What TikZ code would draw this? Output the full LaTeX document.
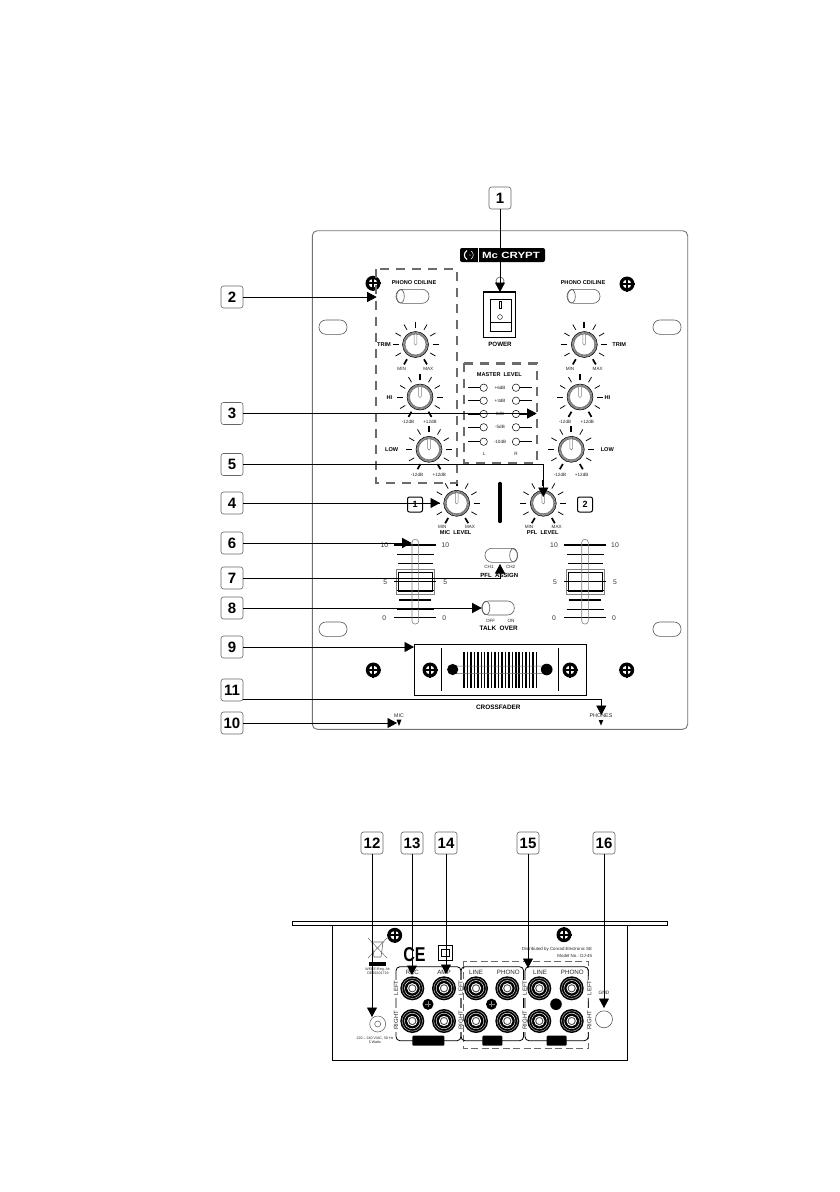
\documentclass[tikz,border=0pt]{standalone}
\usepackage{fontspec}
\setmainfont{Liberation Sans}
\usetikzlibrary{arrows.meta,calc}
\definecolor{dashgray}{gray}{0.42}
\definecolor{panelgray}{gray}{0.45}
\newcounter{lbc}
\newcommand{\fs}[1]{\fontsize{#1}{#1}\selectfont}
\newcommand{\txt}[4][lab]{\stepcounter{lbc}\node[#1] (lb\arabic{lbc}) at (#2,#3) {#4};}
\newcommand{\knob}[3]{%
  \foreach \a in {30,60,120,150,0,180,210,330}{\draw[line width=.75] ($(#1,#2)+(\a:17pt)$) -- ($(#1,#2)+(\a:23pt)$);}
  \foreach \a in {90,240,300}{\draw[line width=1.7] ($(#1,#2)+(\a:17pt)$) -- ($(#1,#2)+(\a:23pt)$);}
  \fill[white] (#1,#2) circle[radius=#3 pt];
  \draw[gray!60,line width=2.4] (#1,#2) circle[radius=#3 pt - 1.2pt];
  \draw[black!60,line width=2.2,dash pattern=on .5pt off .8pt] (#1,#2) circle[radius=#3 pt - 1.2pt];
  \draw[line width=.5] (#1,#2) circle[radius=#3 pt];
  \draw[black!60,line width=.5] (#1,#2) circle[radius=#3 pt - 2.5pt];
  \draw[gray,line width=.5] ($(#1,#2)+(-1.4,-10.3)$) -- ++(0,9.5) arc[start angle=180,end angle=360,radius=1.4pt] -- ++(0,-9.5);
}
\newcommand{\screw}[3]{%
  \fill[black] (#1,#2) circle[radius=#3 pt];
  \fill[white] (#1,#2) circle[radius=#3 pt * .58];
  \draw[black,line width=.26*#3] ($(#1,#2)+(-#3,0)$) -- ($(#1,#2)+(#3,0)$);
  \draw[black,line width=.26*#3] ($(#1,#2)+(0,-#3)$) -- ($(#1,#2)+(0,#3)$);
}
\newcommand{\slotbox}[2]{\draw[slotline,rounded corners=6.8pt] (#1,#2) rectangle ++(28,14.3);}
\newcommand{\toggle}[4]{%
  \draw[slotline,rounded corners=6.8pt] (#1,#3) rectangle (#2,#3+14);
  \draw[slotline] (#4,#3+7) ellipse[x radius=3.8pt,y radius=6.8pt];
}
\newcommand{\fader}[1]{%
  \foreach \yy/\dx/\lw in {545/21/1.4,554.3/18.5/.6,563.3/17.5/.6,590.7/18.5/1,600/16/1.2,609/18.5/.9,617.7/21/1.4}{\draw[line width=\lw] (#1-\dx,\yy) -- (#1+\dx,\yy);}
  \draw[gray,line width=.6] (#1-19,569) rectangle (#1+19,594);
  \draw[line width=1] (#1-17,572.7) rectangle (#1+17,591.7);
  \draw[line width=1.4] (#1-21,581.7) -- (#1+21,581.7);
  \draw[gray,line width=.6,rounded corners=3pt] (#1-3.3,539.3) rectangle (#1+3.3,624);
  \txt[num]{#1-31}{545.3}{10}\txt[num]{#1+30}{545.3}{10}
  \txt[num]{#1-30}{581.7}{5}\txt[num]{#1+30}{581.7}{5}
  \txt[num]{#1-31}{617.7}{0}\txt[num]{#1+29}{617.7}{0}
}
\newcommand{\jack}[2]{%
  \fill[black] (#1,#2) circle[radius=12pt];
  \draw[white!80!black,line width=.4] (#1,#2) circle[radius=10.2pt];
  \draw[white,line width=.45] (#1,#2) circle[radius=7.8pt];
  \fill[white] (#1,#2) circle[radius=5.2pt];
  \draw[black!70,line width=.9] (#1,#2) circle[radius=3.6pt];
}
\tikzset{
  callout/.style={draw=black!60,line width=.6,rounded corners=2.5pt,minimum width=22pt,minimum height=22pt,inner sep=0pt,fill=white,font=\fs{15}\bfseries},
  lead/.style={line width=.8,-{Triangle[length=9.5pt,width=10pt]}},
  slotline/.style={draw=black!65,line width=.6},
  dashbox/.style={draw=dashgray,line width=2.4,dash pattern=on 9pt off 7pt},
  lab/.style={font=\fs{5.6}\bfseries,inner sep=0pt},
  labb/.style={font=\fs{6.4}\bfseries,inner sep=0pt},
  tin/.style={font=\fs{4.6},inner sep=0pt,text=black!85},
  num/.style={font=\fs{6.8},inner sep=0pt,text=black!80},
  rear/.style={font=\fs{6.2},inner sep=0pt,text=black!85},
  rot/.style={font=\fs{6},inner sep=0pt,rotate=90,text=black!85},
  fine/.style={font=\fs{3.6},inner sep=0pt,text=black!85},
}
\begin{document}
\begin{tikzpicture}[x=1pt,y=-1pt]
\useasboundingbox (0,0) rectangle (840,1192);
\fill[white] (0,0) rectangle (840,1192);

% front panel
\draw[panelgray,line width=.9,rounded corners=5pt] (312.3,230.7) rectangle (687.7,729.3);
\slotbox{319}{320}\slotbox{653}{320}\slotbox{319}{622}\slotbox{653}{622}

% power switch
\draw[slotline] (500,281) circle[radius=4pt];
\draw[line width=1.2] (483.3,292) rectangle (515.7,337.7);
\draw[line width=.6] (490,299) rectangle (511,331);
\draw[line width=.6] (490,322) -- (511,322);
\draw[line width=.6] (498.8,301.5) rectangle (501.2,308.5);
\draw[line width=.4] (500,317) circle[radius=2.4pt];
\txt[lab]{500}{344.3}{\fs{6.2}\bfseries POWER}

% screws front
\screw{373}{283.3}{7.5}\screw{627}{284}{7.5}
\screw{373.3}{670}{7.5}\screw{430}{670}{7.5}\screw{570}{670}{7.5}\screw{626.7}{670}{7.5}

% toggles
\toggle{396}{429}{289.3}{400.5}\toggle{567}{600}{289.3}{571.5}
\toggle{485}{517.7}{548.3}{513.5}\toggle{481.7}{514.3}{601}{486}
\txt[lab]{414}{282.7}{PHONO CD/LINE}\txt[lab]{583}{282.7}{PHONO CD/LINE}

% knobs
\knob{415.5}{344.5}{13}\knob{420}{397}{13}\knob{429}{449.3}{13}\knob{456.7}{503.3}{13}
\knob{584.3}{344.5}{13}\knob{580}{397}{13}\knob{571.3}{449.3}{13}\knob{543.3}{503.3}{13}
\txt[lab]{384}{345}{TRIM}\txt[lab]{619.3}{345}{TRIM}
\txt[lab]{389.3}{397.3}{HI}\txt[lab]{607.3}{397.3}{HI}
\txt[lab]{391.7}{450}{LOW}\txt[lab]{607.3}{450}{LOW}
\txt[tin]{401.7}{369.3}{MIN}\txt[tin]{428.3}{369.3}{MAX}
\txt[tin]{570}{369.3}{MIN}\txt[tin]{597.7}{369.3}{MAX}
\txt[tin]{408}{422}{-12dB}\txt[tin]{430}{422}{+12dB}
\txt[tin]{565}{422}{-12dB}\txt[tin]{587.3}{422}{+12dB}
\txt[tin]{417}{475}{-12dB}\txt[tin]{439.3}{475}{+12dB}
\txt[tin]{560}{475}{-12dB}\txt[tin]{581.7}{475}{+12dB}
\txt[tin]{442.3}{527.3}{MIN}\txt[tin]{470}{527.3}{MAX}
\txt[tin]{529}{527.3}{MIN}\txt[tin]{556.7}{527.3}{MAX}
\txt[lab]{455.7}{532.9}{MIC\ \ LEVEL}\txt[lab]{542.7}{532.9}{PFL\ \ LEVEL}

% dashed groups
\draw[dashbox] (376,269) rectangle (456.7,482.7);
\draw[dashbox,fill=white] (464,363.3) rectangle (536.7,463.3);

% master level
\txt[lab]{499.3}{375}{MASTER\ \ LEVEL}
\foreach \yy/\lw/\tt in {387.7/1.5/+6dB,400.7/.7/+3dB,414/1.5/0dB,427.3/1.5/-5dB,441.7/.7/-10dB}{
  \draw[line width=\lw] (468.3,\yy) -- (480,\yy);
  \draw[line width=\lw] (519.7,\yy) -- (531.7,\yy);
  \draw[line width=.5] (483.7,\yy) circle[radius=3.7pt];
  \draw[line width=.5] (516,\yy) circle[radius=3.7pt];
  \txt[tin]{500}{\yy}{\tt}
}
\txt[tin]{484.3}{454}{L}\txt[tin]{516}{454}{R}

% channel marks and bar
\node[draw,line width=1,rounded corners=2pt,minimum width=15pt,minimum height=15pt,inner sep=0pt,font=\fs{9}\bfseries] (ch1) at (415,504.5) {1};
\node[draw,line width=1,rounded corners=2pt,minimum width=15pt,minimum height=15pt,inner sep=0pt,font=\fs{9}\bfseries] (ch2) at (585,504.5) {2};
\draw[line width=3.4,line cap=round] (500,483.5) -- (500,521.5);

% faders
\fader{415.3}\fader{585}
\txt[tin]{489}{567.3}{CH1}\txt[tin]{510.7}{567.3}{CH2}
\txt[lab]{499.3}{575.4}{\fs{6}\bfseries PFL\ \ ASSIGN}
\txt[tin]{490.7}{620.7}{OFF}\txt[tin]{511}{620.7}{ON}
\txt[labb]{498.7}{628}{TALK\ \ OVER}

% crossfader
\draw[line width=.9] (414.3,644) rectangle (586.7,695.7);
\draw[line width=.9] (441.3,648.3) -- (441.3,690.7);
\draw[line width=.9] (558.3,648.3) -- (558.3,690.7);
\foreach \i in {0,...,21}{\draw[line width=1.5] (464+3.45*\i,651.7) -- (464+3.45*\i,687.7);}
\draw[draw=black!60,line width=.5,rounded corners=3pt] (452,666) rectangle (547,673.5);
\fill (452.7,669.5) circle[radius=5.6pt];
\fill (546.7,669.5) circle[radius=5.8pt];
\txt[labb]{498.3}{707.7}{CROSSFADER}
\txt[tin]{399}{716}{\fs{5.2}MIC}\txt[tin]{601}{716}{\fs{5.4}PHONES}
\fill (396.5,719.5) -- (401.5,719.5) -- (399,726) -- cycle;
\fill (598.7,720) -- (603.3,720) -- (601,725.5) -- cycle;

% rear panel
\draw[line width=.9] (292.3,921.7) rectangle (667.3,925.7);
\draw[line width=.9] (332.7,925.7) -- (332.7,1060) -- (627.3,1060) -- (627.3,925.7);
\screw{394.7}{935.3}{7.5}\screw{564}{934.7}{7.5}
% WEEE
\draw[black!60,line width=.5] (368,938) -- (387,958);
\draw[black!60,line width=.5] (387,938) -- (368,958);
\draw[black!60,line width=.6] (372,942) -- (383,942) -- (381,957) -- (374,957) -- cycle;
\fill (369,962) rectangle (386,965.7);
\txt[fine]{378}{969.3}{WEEE-Reg.-Nr.}\txt[fine]{378}{973.7}{DE60201719}
\node[inner sep=0pt,font=\fs{20}\bfseries] (ce) at (414.5,954.6) {\scalebox{.8}[1]{CE}};
\draw[line width=.7] (438.3,945.7) rectangle (452.7,960);
\draw[line width=.7] (441.7,949) rectangle (449.3,956.7);
\draw[draw=dashgray,line width=.7,dash pattern=on 7pt off 3.5pt] (463.3,961.7) rectangle (588.3,1048.3);
\foreach \xa/\xb in {396/461,461/523.6,525/588.3}{
  \draw[line width=.8,rounded corners=4pt] (\xa,966.7) rectangle (\xb,1040.7);
}
\fill[white] (394,980) rectangle (398,998);\fill[white] (394,1008) rectangle (398,1032);
\fill[white] (459,980) rectangle (463,998);\fill[white] (459,1008) rectangle (463,1032);
\fill[white] (522.5,980) rectangle (527,998);\fill[white] (522.5,1008) rectangle (527,1032);
\fill[white] (586.5,980) rectangle (591,998);\fill[white] (586.5,1008) rectangle (591,1032);
\fill[black,rounded corners=1pt] (412.3,1035.7) rectangle (444.3,1045.7);
\fill[black,rounded corners=1pt] (482.3,1035.7) rectangle (502.3,1045.7);
\fill[black,rounded corners=1pt] (546.7,1035.7) rectangle (566.7,1045.7);
\foreach \xx in {412.3,444,476,507.3,539.3,571.7}{\jack{\xx}{988.3}\jack{\xx}{1021}}
\fill (428,1004.3) circle[radius=5.5pt];
\draw[gray,line width=.6] (425,1004.3) -- (431,1004.3) (428,1001.3) -- (428,1007.3);
\fill (491.5,1004.2) circle[radius=5.5pt];
\draw[gray,line width=.6] (488.5,1004.2) -- (494.5,1004.2) (491.5,1001.2) -- (491.5,1007.2);
\fill (556,1004.2) circle[radius=5.8pt];
\txt[rear]{412.3}{972.3}{REC}\txt[rear]{444}{972.3}{AMP}
\txt[rear]{476}{972.3}{LINE}\txt[rear]{508.3}{972.3}{PHONO}
\txt[rear]{540}{972.3}{LINE}\txt[rear]{572.3}{972.3}{PHONO}
\foreach \xx in {396,460.7,524.7,589.3}{\txt[rot]{\xx}{987.7}{LEFT}\txt[rot]{\xx}{1020}{RIGHT}}
\draw[black!65,line width=.5] (377.7,1024) circle[radius=8pt];
\draw[black!65,line width=.5] (377.7,1024) circle[radius=3pt];
\txt[fine]{375}{1038.7}{220 – 240 V/AC, 50 Hz}\txt[fine]{375}{1042.7}{5 Watts}
\node[fine,anchor=east,font=\fs{4.4}] (dist) at (592.3,949.3) {Distributed by Conrad Electronic SE};
\node[fine,anchor=east,font=\fs{4.4}] (model) at (592.3,956) {Model No.: DJ-45};
\txt[rear]{604}{993}{\fs{4.8}GND}
\draw[black!65,line width=.6] (604,1019.3) circle[radius=8.5pt];

% callouts
\node[callout] (n1) at (500,198) {1};
\node[callout] (n2) at (232,297) {2};
\node[callout] (n3) at (232,413.5) {3};
\node[callout] (n5) at (232,464.5) {5};
\node[callout] (n4) at (232,503) {4};
\node[callout] (n6) at (232,543) {6};
\node[callout] (n7) at (232,578) {7};
\node[callout] (n8) at (232,608) {8};
\node[callout] (n9) at (232,647) {9};
\node[callout] (n11) at (232,690) {11};
\node[callout] (n10) at (232,723) {10};
\node[callout] (n12) at (372,843) {12};
\node[callout] (n13) at (412,843) {13};
\node[callout] (n14) at (446,843) {14};
\node[callout] (n15) at (528,843) {15};
\node[callout] (n16) at (604,843) {16};

% targets
\coordinate (t1) at (500,292);
\coordinate (t2) at (376.7,297);
\coordinate (t3) at (536.7,413.5);
\coordinate (t5) at (543.3,497);
\coordinate (t4) at (440,503);
\coordinate (t6) at (411.7,543);
\coordinate (t7) at (500,564);
\coordinate (t8) at (481.7,608);
\coordinate (t9) at (414,647);
\coordinate (t11) at (601.3,715);
\coordinate (t10) at (397,723);
\coordinate (t12) at (372,1017);
\coordinate (t13) at (412,975);
\coordinate (t14) at (446,974);
\coordinate (t15) at (528,968);
\coordinate (t16) at (604,1008);

% connectors
\draw[lead] (n1.south) -- (t1);
\draw[lead] (n2.east) -- (t2);
\draw[lead] (n3.east) -- (t3);
\draw[lead] (n5.east) -| (t5);
\draw[lead] (n4.east) -- (t4);
\draw[lead] (n6.east) -- (t6);
\draw[lead] (n7.east) -| (t7);
\draw[lead] (n8.east) -- (t8);
\draw[lead] (n9.east) -- (t9);
\draw[lead] ([yshift=-9.4pt]n11.east) -| (t11);
\draw[lead] (n10.east) -- (t10);
\draw[lead] (n12.south) -- (t12);
\draw[lead] (n13.south) -- (t13);
\draw[lead] (n14.south) -- (t14);
\draw[lead] (n15.south) -- (t15);
\draw[lead] (n16.south) -- (t16);

% logo over the connector
\fill[black,rounded corners=2pt] (460,248) rectangle (545,262);
\draw[white,line width=.8] (478,248) -- (478,262);
\draw[white,line width=1.1] (467,250.5) .. controls (463.5,253) and (463.5,257) .. (467,259.5);
\draw[white,line width=.5] (471,251) .. controls (474,253) and (474,257) .. (471,259);
\fill[white] (470,255) circle[radius=.6pt];
\node[inner sep=0pt,text=white,font=\fs{9}\bfseries] (logo) at (511,255) {\scalebox{1.28}[1]{Mc CRYPT}};
\end{tikzpicture}
\end{document}
